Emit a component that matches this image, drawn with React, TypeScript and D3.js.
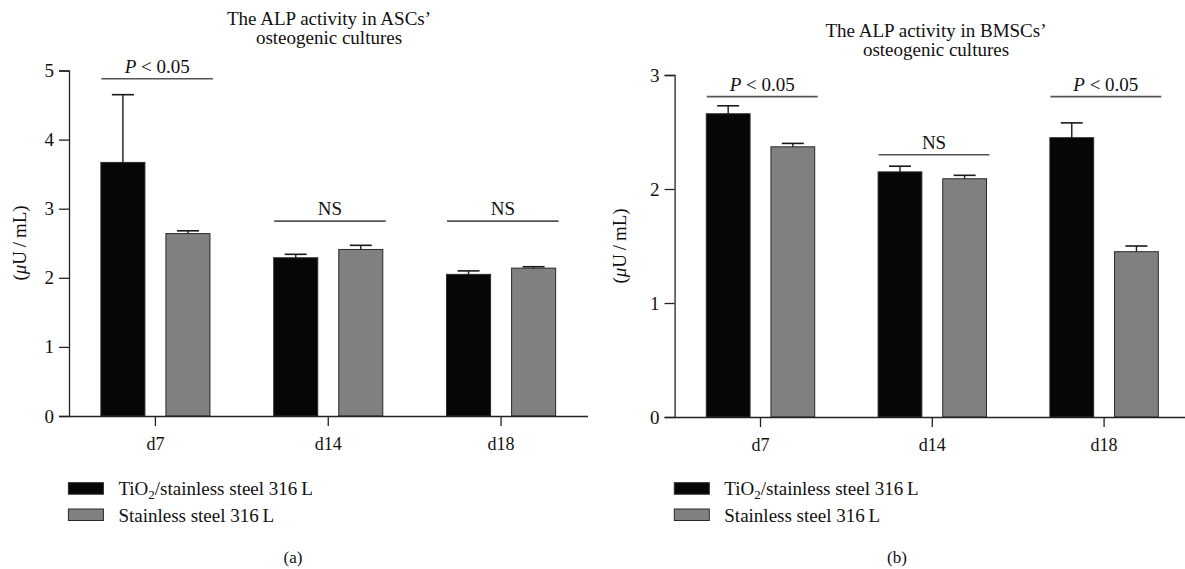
import React, { useEffect, useRef } from 'react';
import * as d3 from 'd3';

// categories and series
const days = ['d7', 'd14', 'd18'];
const seriesKeys = ['tio2', 'steel'];
const seriesNames = ['TiO2/stainless steel 316 L', 'Stainless steel 316 L'];

// panel (a) ASCs
const ascTiO2 = [3.67, 2.29, 2.05];
const ascTiO2Err = [0.98, 0.05, 0.05];
const ascSteel = [2.64, 2.41, 2.14];
const ascSteelErr = [0.04, 0.06, 0.02];
const ascSigText = ['P < 0.05', 'NS', 'NS'];
const ascSigLevel = [4.88, 2.82, 2.82];
const ascTicks = [0, 1, 2, 3, 4, 5];

// panel (b) BMSCs
const bmscTiO2 = [2.66, 2.15, 2.45];
const bmscTiO2Err = [0.07, 0.05, 0.13];
const bmscSteel = [2.37, 2.09, 1.45];
const bmscSteelErr = [0.03, 0.03, 0.05];
const bmscSigText = ['P < 0.05', 'NS', 'P < 0.05'];
const bmscSigLevel = [2.81, 2.3, 2.81];
const bmscTicks = [0, 1, 2, 3];

const FONT = "'Liberation Serif', 'DejaVu Serif', serif";
const fills = { tio2: '#060606', steel: '#808080' };

const W = 1185;
const H = 569;

const drawPanel = (svg, cfg) => {
  const g = svg.append('g');

  const x = d3.scaleBand().domain(days).range(cfg.xRange).paddingInner(0).paddingOuter(0);
  const xs = d3.scaleBand().domain(seriesKeys).range([0, x.bandwidth()])
    .paddingInner(0.323).paddingOuter(0.49);
  const y = d3.scaleLinear().domain([0, d3.max(cfg.ticks)]).range(cfg.yRange);

  const rows = days.map((d, i) => ({
    day: d,
    bars: [
      { key: 'tio2', v: cfg.tio2[i], e: cfg.tio2Err[i] },
      { key: 'steel', v: cfg.steel[i], e: cfg.steelErr[i] },
    ],
    sig: cfg.sigText[i],
    level: cfg.sigLevel[i],
  }));

  // bars
  rows.forEach(r => {
    r.bars.forEach(b => {
      const bx = x(r.day) + xs(b.key);
      g.append('rect')
        .attr('x', bx)
        .attr('y', y(b.v))
        .attr('width', xs.bandwidth())
        .attr('height', y(0) - y(b.v))
        .attr('fill', fills[b.key])
        .attr('stroke', '#2a2a2a')
        .attr('stroke-width', 1);
      // error bar
      const cx = bx + xs.bandwidth() / 2;
      g.append('line')
        .attr('x1', cx).attr('x2', cx)
        .attr('y1', y(b.v)).attr('y2', y(b.v + b.e))
        .attr('stroke', '#1a1a1a').attr('stroke-width', 1.4);
      g.append('line')
        .attr('x1', cx - 11).attr('x2', cx + 11)
        .attr('y1', y(b.v + b.e)).attr('y2', y(b.v + b.e))
        .attr('stroke', '#1a1a1a').attr('stroke-width', 1.6);
    });

    // significance line + label
    const x0 = x(r.day) + xs('tio2') + 0.5;
    const x1 = x(r.day) + xs('steel') + xs.bandwidth() + 3;
    g.append('line')
      .attr('x1', x0).attr('x2', x1)
      .attr('y1', y(r.level)).attr('y2', y(r.level))
      .attr('stroke', '#555').attr('stroke-width', 1.6);
    const t = g.append('text')
      .attr('x', (x0 + x1) / 2)
      .attr('y', y(r.level) - 6)
      .attr('text-anchor', 'middle')
      .style('font-family', FONT)
      .style('font-size', '19px')
      .style('fill', '#111');
    if (r.sig === 'NS') {
      t.text('NS');
    } else {
      t.append('tspan').style('font-style', 'italic').text('P');
      t.append('tspan').text(' < 0.05');
    }
  });

  // y axis
  const yAxis = g.append('g')
    .attr('transform', `translate(${cfg.xRange[0]},0)`)
    .call(d3.axisLeft(y).tickValues(cfg.ticks).tickFormat(d3.format('d')).tickSize(10).tickPadding(5));
  yAxis.select('.domain').attr('stroke', '#222').attr('stroke-width', 1.3);
  yAxis.selectAll('.tick line').attr('stroke', '#222').attr('stroke-width', 1.3);
  yAxis.selectAll('.tick text')
    .style('font-family', FONT).style('font-size', '19px').attr('fill', '#111');

  // x axis
  const xAxis = g.append('g')
    .attr('transform', `translate(0,${cfg.yRange[0]})`)
    .call(d3.axisBottom(x).tickSize(10).tickSizeOuter(0).tickPadding(11));
  xAxis.select('.domain').attr('stroke', '#222').attr('stroke-width', 1.3);
  xAxis.selectAll('.tick line').attr('stroke', '#222').attr('stroke-width', 1.3);
  xAxis.selectAll('.tick text')
    .style('font-family', FONT).style('font-size', '18px').attr('fill', '#111');

  // y label
  const yl = g.append('text')
    .attr('transform', `translate(${cfg.yLabelPos[0]},${cfg.yLabelPos[1]}) rotate(-90)`)
    .attr('text-anchor', 'middle')
    .attr('dy', '0.35em')
    .style('font-family', FONT)
    .style('font-size', '19px')
    .style('fill', '#111');
  yl.append('tspan').text('(');
  yl.append('tspan').style('font-style', 'italic').text('μ');
  yl.append('tspan').text('U\u2009/\u2009mL)');

  // title
  cfg.title.forEach((line, i) => {
    g.append('text')
      .attr('x', cfg.titlePos[0])
      .attr('y', cfg.titlePos[1] + i * 19)
      .attr('text-anchor', 'middle')
      .style('font-family', FONT)
      .style('font-size', '19px')
      .style('fill', '#111')
      .text(line);
  });

  // legend
  seriesKeys.forEach((k, i) => {
    const ly = 482.7 + i * 26.3;
    g.append('rect')
      .attr('x', cfg.legendX)
      .attr('y', ly)
      .attr('width', 35)
      .attr('height', 11.5)
      .attr('fill', fills[k])
      .attr('stroke', '#2a2a2a')
      .attr('stroke-width', 1);
    const lt = g.append('text')
      .attr('x', cfg.legendX + 50)
      .attr('y', ly + 12.5)
      .style('font-family', FONT)
      .style('font-size', '19px')
      .style('fill', '#111');
    if (k === 'tio2') {
      lt.append('tspan').text('TiO');
      lt.append('tspan').attr('dy', 4).style('font-size', '13px').text('2');
      lt.append('tspan').attr('dy', -4).text('/stainless steel 316\u2009L');
    } else {
      lt.text(seriesNames[i].replace('316 L', '316\u2009L'));
    }
  });

  // panel letter
  g.append('text')
    .attr('x', cfg.letterX)
    .attr('y', 563)
    .attr('text-anchor', 'middle')
    .style('font-family', FONT)
    .style('font-size', '17px')
    .style('fill', '#111')
    .text(cfg.letter);
};

const App = () => {
  const svgRef = useRef(null);

  useEffect(() => {
    document.body.style.margin = '0';
    const svg = d3.select(svgRef.current);
    svg.selectAll('*').remove();

    svg.append('rect').attr('width', W).attr('height', H).attr('fill', '#fff');

    drawPanel(svg, {
      xRange: [69, 587.5],
      yRange: [416, 70.5],
      ticks: ascTicks,
      tio2: ascTiO2, tio2Err: ascTiO2Err,
      steel: ascSteel, steelErr: ascSteelErr,
      sigText: ascSigText, sigLevel: ascSigLevel,
      title: ["The ALP activity in ASCs’", 'osteogenic cultures'],
      titlePos: [329, 25],
      yLabelPos: [19, 243],
      legendX: 68.4,
      letterX: 293,
      letter: '(a)',
    });

    drawPanel(svg, {
      xRange: [674.6, 1190],
      yRange: [417, 75],
      ticks: bmscTicks,
      tio2: bmscTiO2, tio2Err: bmscTiO2Err,
      steel: bmscSteel, steelErr: bmscSteelErr,
      sigText: bmscSigText, sigLevel: bmscSigLevel,
      title: ["The ALP activity in BMSCs’", 'osteogenic cultures'],
      titlePos: [936, 37],
      yLabelPos: [619, 246],
      legendX: 674.3,
      letterX: 897,
      letter: '(b)',
    });
  }, []);

  return (
    <svg ref={svgRef} width={W} height={H} style={{ display: 'block' }} />
  );
};

export default App;
